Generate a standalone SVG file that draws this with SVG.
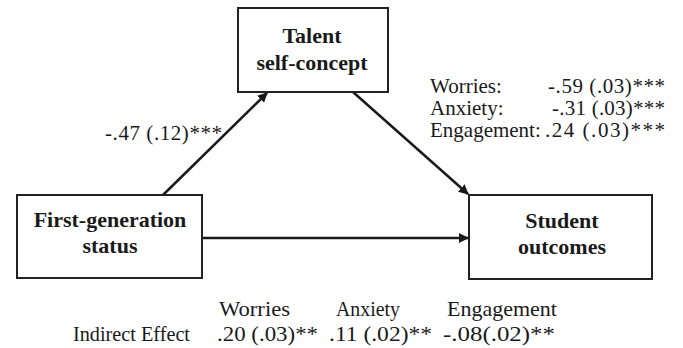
<svg xmlns="http://www.w3.org/2000/svg" width="683" height="348" viewBox="0 0 683 348">
  <style>
    .box { fill: #ffffff; stroke: #222222; stroke-width: 2; }
    text { font-family: "Liberation Serif", "Times New Roman", serif; fill: #1a1a1a; }
    .title { font-weight: bold; font-size: 22px; text-anchor: middle; }
    .lbl { font-size: 21px; }
    .tbl { font-size: 22px; }
    .conn { stroke: #1a1a1a; stroke-width: 2.5; fill: none; marker-end: url(#head); }
  </style>
  <defs>
    <marker id="head" viewBox="0 0 10 10" refX="9" refY="5" markerWidth="4" markerHeight="4" orient="auto" markerUnits="strokeWidth">
      <path d="M0,0 L10,5 L0,10 Z" fill="#1a1a1a"/>
    </marker>
  </defs>
  <rect width="683" height="348" fill="#ffffff"/>

  <g id="connectors">
    <line class="conn" x1="163" y1="195" x2="267" y2="93"/>
    <line class="conn" x1="353" y1="92" x2="468" y2="194"/>
    <line class="conn" x1="202" y1="238" x2="468" y2="238"/>
  </g>

  <g id="talent">
    <rect class="box" x="238" y="8" width="150" height="84"/>
    <text class="title" x="312" y="43">Talent</text>
    <text class="title" x="312" y="70">self-concept</text>
  </g>

  <g id="first-generation">
    <rect class="box" x="17" y="195" width="185" height="83"/>
    <text class="title" x="110" y="227">First-generation</text>
    <text class="title" x="110" y="253">status</text>
  </g>

  <g id="student-outcomes">
    <rect class="box" x="469" y="195" width="183" height="84"/>
    <text class="title" x="562" y="228">Student</text>
    <text class="title" x="562" y="254">outcomes</text>
  </g>

  <g id="path-a">
    <text class="lbl" x="105" y="140" textLength="117" lengthAdjust="spacing">-.47 (.12)***</text>
  </g>

  <g id="path-b">
    <text class="lbl" x="430" y="93">Worries:</text>
    <text class="lbl" x="548" y="93" textLength="117" lengthAdjust="spacing">-.59 (.03)***</text>
    <text class="lbl" x="430" y="115">Anxiety:</text>
    <text class="lbl" x="552" y="115" textLength="113" lengthAdjust="spacing">-.31 (.03)***</text>
    <text class="lbl" x="430" y="137">Engagement:</text>
    <text class="lbl" x="545" y="137" textLength="120" lengthAdjust="spacing">.24 (.03)***</text>
  </g>

  <g id="indirect-effects">
    <text class="tbl" x="219" y="316" textLength="71" lengthAdjust="spacingAndGlyphs">Worries</text>
    <text class="tbl" x="336" y="316" textLength="64" lengthAdjust="spacingAndGlyphs">Anxiety</text>
    <text class="tbl" x="447" y="316" textLength="110" lengthAdjust="spacingAndGlyphs">Engagement</text>
    <text class="tbl" x="73" y="341" textLength="117" lengthAdjust="spacingAndGlyphs">Indirect Effect</text>
    <text class="tbl" x="217" y="341" textLength="101" lengthAdjust="spacingAndGlyphs">.20 (.03)**</text>
    <text class="tbl" x="329" y="341" textLength="103" lengthAdjust="spacingAndGlyphs">.11 (.02)**</text>
    <text class="tbl" x="443" y="341" textLength="112" lengthAdjust="spacingAndGlyphs">-.08(.02)**</text>
  </g>
</svg>
